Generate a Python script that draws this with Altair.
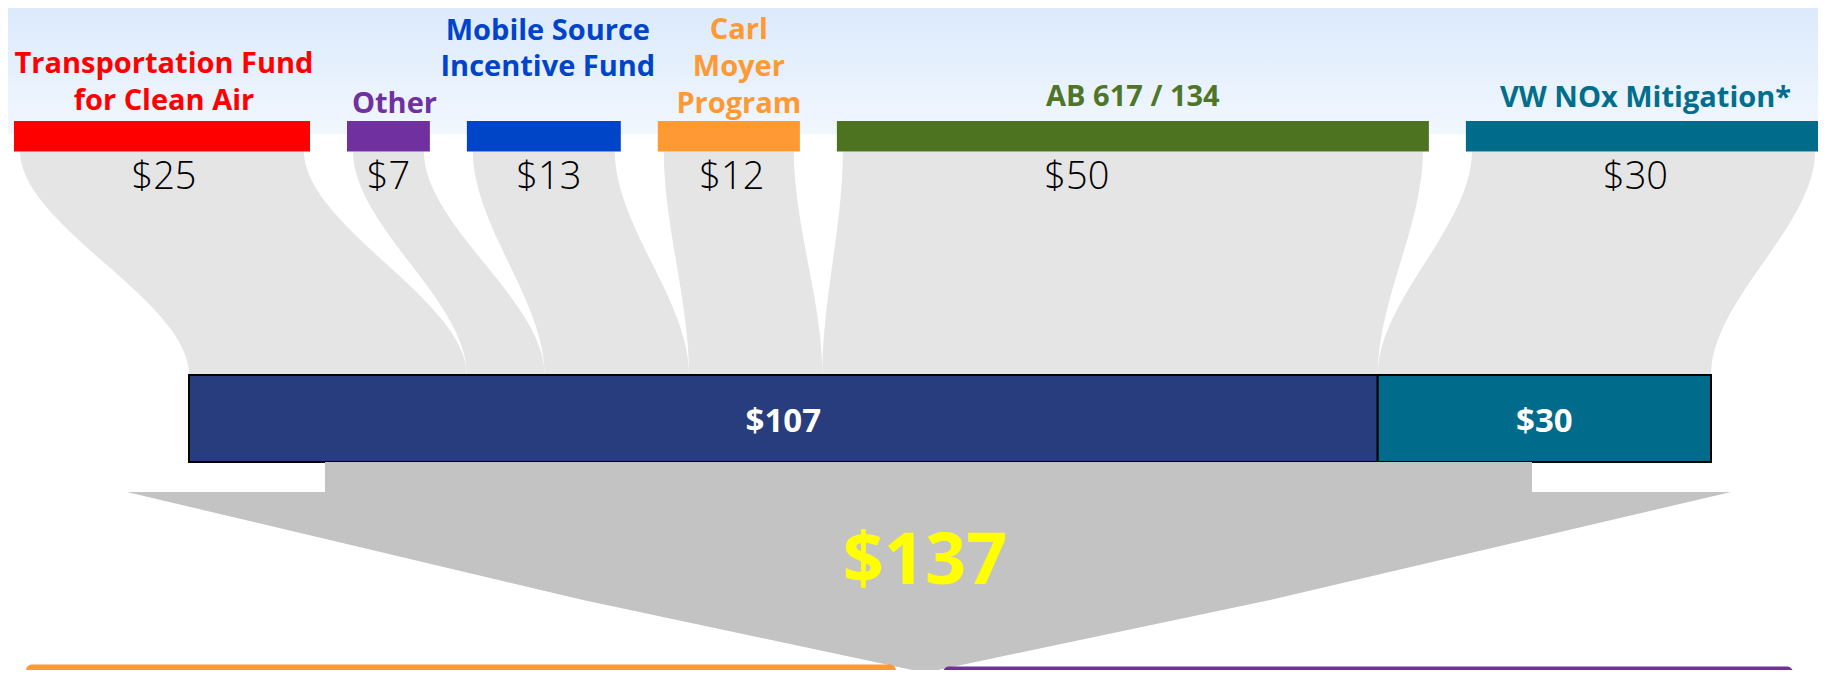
import altair as alt
import pandas as pd
import numpy as np

# ---------------- data ----------------
source_names = ["Transportation Fund for Clean Air", "Other", "Mobile Source Incentive Fund",
                "Carl Moyer Program", "AB 617 / 134", "VW NOx Mitigation*"]
label_lines = [["Transportation Fund", "for Clean Air"], ["Other"], ["Mobile Source", "Incentive Fund"],
               ["Carl", "Moyer", "Program"], ["AB 617 / 134"], ["VW NOx Mitigation*"]]
amounts = [25, 7, 13, 12, 50, 30]
bottom_group = [0, 0, 0, 0, 0, 1]          # which combined bar each source flows into

# ---------------- styles ----------------
bar_colors = ["#FF0000", "#7030A0", "#0044C8", "#FF9933", "#4D7220", "#006B8A"]
label_colors = ["#FF0000", "#7030A0", "#0044CC", "#FF9933", "#4F7526", "#006E8C"]
bottom_colors = ["#283D7D", "#006B8A"]
FLOW_COLOR = "#E5E5E5"
ARROW_COLOR = "#C3C3C3"
FONT = "Open Sans"

# ---------------- layout (reference pixel space) ----------------
TOP_X0, TOP_UNIT, TOP_GAP, TOP_INSET = 14, 11.84, 37, 6
BAR_Y0, BAR_Y1 = 119, 151
FLOW_Y0, FLOW_Y1 = 151, 375
BOT_X0, BOT_X1, BOT_Y0, BOT_Y1 = 189, 1711, 375, 462
LABEL_LAST_BASELINE = [107, 111, 72, 110, 103, 104]
LABEL_DX = [2, 6, 4, 10, 0, 2]
NUM_DX = [2, 0, 5, 3, -56, -8]
LINE_H = 38.5
NUM_BASELINE = 189
GRAD_Y1 = 133

xs = alt.Scale(domain=[8, 1818], range=[0, 1810])
ys = alt.Scale(domain=[0, 160, 600, 678], range=[0, 152, 592, 662])

def X(f):
    return alt.X(f, type="quantitative", scale=xs, axis=None)

def Y(f):
    return alt.Y(f, type="quantitative", scale=ys, axis=None)

# top bars
cum = np.concatenate([[0], np.cumsum(amounts)])
top = pd.DataFrame({
    "name": source_names,
    "amount": amounts,
    "x0": [TOP_X0 + TOP_UNIT * cum[i] + TOP_GAP * i for i in range(len(amounts))],
    "color": bar_colors,
})
top["x1"] = top["x0"] + TOP_UNIT * top["amount"]
top["xc"] = (top["x0"] + top["x1"]) / 2
top["nx"] = top["xc"] + NUM_DX
top["y0"] = BAR_Y0
top["y1"] = BAR_Y1
top["label"] = ["$" + str(a) for a in amounts]
top["ny"] = NUM_BASELINE

# bottom combined bars
group_tot = [sum(a for a, g in zip(amounts, bottom_group) if g == k) for k in range(2)]
bunit = (BOT_X1 - BOT_X0) / sum(amounts)
bottom = pd.DataFrame({
    "total": group_tot,
    "x0": [BOT_X0, BOT_X0 + bunit * group_tot[0]],
    "x1": [BOT_X0 + bunit * group_tot[0], BOT_X1],
    "color": bottom_colors,
})
bottom["xc"] = (bottom["x0"] + bottom["x1"]) / 2
bottom["y0"] = BOT_Y0
bottom["y1"] = BOT_Y1
bottom["label"] = ["$" + str(t) for t in group_tot]
bottom["ly"] = 432

# flows
rows = []
n = 40
for i in range(len(amounts)):
    tl = top["x0"][i] + TOP_INSET
    tr = top["x1"][i] - TOP_INSET
    bl = BOT_X0 + bunit * cum[i]
    br = BOT_X0 + bunit * cum[i + 1]
    for k in range(n):
        u = k / (n - 1)
        s = 3 * u * u - 2 * u ** 3
        rows.append({"flow": i, "k": k, "y": FLOW_Y0 + u * (FLOW_Y1 - FLOW_Y0),
                     "xl": tl + (bl - tl) * s, "xr": tr + (br - tr) * s})
flows = pd.DataFrame(rows)

# labels
lab_rows = []
for i, lines in enumerate(label_lines):
    for j, line in enumerate(lines):
        lab_rows.append({"text": line, "x": top["xc"][i] + LABEL_DX[i],
                         "y": LABEL_LAST_BASELINE[i] - (len(lines) - 1 - j) * LINE_H,
                         "color": label_colors[i]})
labels = pd.DataFrame(lab_rows)

# background gradient band
bg = pd.DataFrame({"x0": [0], "x1": [1826], "y0": [0], "y1": [GRAD_Y1]})
grad = alt.Gradient(gradient="linear",
                    stops=[alt.GradientStop(color="#DCEAFC", offset=0),
                           alt.GradientStop(color="#F1F7FE", offset=1)],
                    x1=0, x2=0, y1=0, y2=1)

# arrow
stem = pd.DataFrame({"x0": [325], "x1": [1532], "y0": [BOT_Y1], "y1": [492]})
head = pd.DataFrame({"y": [492, 600, 681], "xl": [127, 583, 925], "xr": [1731, 1270, 925]})
total = pd.DataFrame({"text": ["$" + str(sum(amounts))], "x": [925], "y": [584]})

# partial bars of the next section at the bottom edge
nxt = pd.DataFrame({"x0": [26, 943], "x1": [896, 1793], "y0": [672, 674], "y1": [690, 690],
                    "color": ["#FF9933", "#7030A0"]})

layers = [
    alt.Chart(bg).mark_rect(color=grad).encode(x=X("x0"), x2="x1", y=Y("y0"), y2="y1"),
    alt.Chart(flows).mark_area(orient="horizontal", color=FLOW_COLOR).encode(
        y=Y("y"), x=X("xl"), x2="xr", detail="flow:N"),
    alt.Chart(top).mark_rect().encode(x=X("x0"), x2="x1", y=Y("y0"), y2="y1",
                                       color=alt.Color("color:N", scale=None)),
    alt.Chart(top).mark_text(font=FONT, fontSize=38, fontWeight=300, color="black",
                             align="center", baseline="alphabetic").encode(
        x=X("nx"), y=Y("ny"), text="label:N"),
    alt.Chart(labels).mark_text(font=FONT, fontSize=29, fontWeight="bold",
                                align="center", baseline="alphabetic").encode(
        x=X("x"), y=Y("y"), text="text:N", color=alt.Color("color:N", scale=None)),
    alt.Chart(bottom).mark_rect(stroke="black", strokeWidth=2).encode(
        x=X("x0"), x2="x1", y=Y("y0"), y2="y1", color=alt.Color("color:N", scale=None)),
    alt.Chart(bottom).mark_text(font=FONT, fontSize=33, fontWeight="bold", color="white",
                                align="center", baseline="alphabetic").encode(
        x=X("xc"), y=Y("ly"), text="label:N"),
    alt.Chart(stem).mark_rect(color=ARROW_COLOR).encode(x=X("x0"), x2="x1", y=Y("y0"), y2="y1"),
    alt.Chart(head).mark_area(orient="horizontal", color=ARROW_COLOR).encode(
        y=Y("y"), x=X("xl"), x2="xr"),
    alt.Chart(total).mark_text(font=FONT, fontSize=72, fontWeight="bold", color="#FFFF00",
                               align="center", baseline="alphabetic").encode(
        x=X("x"), y=Y("y"), text="text:N"),
    alt.Chart(nxt).mark_rect(cornerRadius=6).encode(
        x=X("x0"), x2="x1", y=Y("y0"), y2="y1", color=alt.Color("color:N", scale=None)),
]

chart = alt.layer(*layers).properties(
    width=1810, height=662, padding=0, autosize=alt.AutoSizeParams(type="none"),
    background="white",
).configure_view(stroke=None)

chart.save("out.html", embed_options={"renderer": "svg", "actions": False})
